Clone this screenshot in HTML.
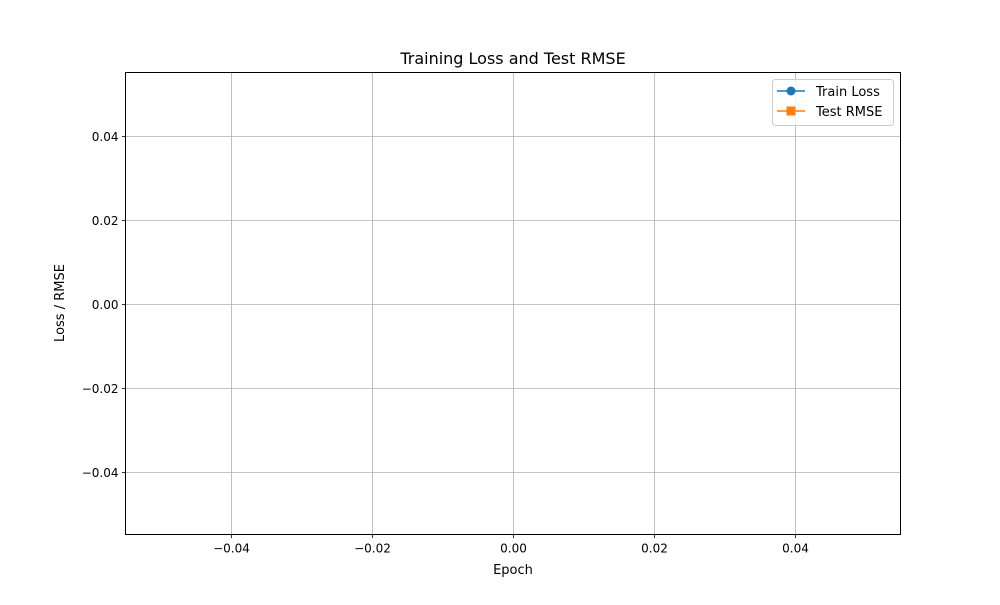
<!DOCTYPE html>
<html><head><meta charset="utf-8"><style>
body{margin:0;background:#fff;font-family:"Liberation Sans","DejaVu Sans",sans-serif;}
svg text{font-family:"DejaVu Sans","Liberation Sans",sans-serif;}
</style></head><body>
<svg id="chart" width="1000" height="600" xmlns="http://www.w3.org/2000/svg">
<rect width="1000" height="600" fill="#fff"/>
<g id="grid"></g>
<rect x="125.5" y="72.5" width="775" height="462" fill="none" stroke="#000" stroke-width="1"/>
<g id="ticks"></g>
<g id="series"></g>
<text x="513" y="64" text-anchor="middle" font-size="16">Training Loss and Test RMSE</text>
<text x="513" y="574" text-anchor="middle" font-size="13">Epoch</text>
<text x="64" y="303" text-anchor="middle" font-size="13" transform="rotate(-90 64 303)">Loss / RMSE</text>
<g>
<rect x="772.5" y="79.5" width="121" height="46" rx="3" fill="#fff" fill-opacity="0.8" stroke="#ccc"/>
<g>
<line x1="777" y1="91" x2="805" y2="91" stroke="#1f77b4" stroke-width="1.5"/>
<circle cx="791" cy="91" r="4.5" fill="#1f77b4"/>
<text x="816" y="96" font-size="13">Train Loss</text>
</g>
<g>
<line x1="777" y1="111" x2="805" y2="111" stroke="#ff7f0e" stroke-width="1.5"/>
<rect x="786.5" y="106.5" width="9" height="9" fill="#ff7f0e"/>
<text x="816" y="116" font-size="13">Test RMSE</text>
</g>
</g>
</svg>
<script>
const epochs = [];
const trainLoss = [];
const testRmse = [];
const xTicks = [-0.04, -0.02, 0, 0.02, 0.04];
const yTicks = [-0.04, -0.02, 0, 0.02, 0.04];
const xDomain = [-0.055, 0.055];
const yDomain = [-0.055, 0.055];

const L=125.5,R=900.5,T=72.5,B=534.5;
function xs(v){return L+(v-xDomain[0])/(xDomain[1]-xDomain[0])*(R-L);}
function ys(v){return B-(v-yDomain[0])/(yDomain[1]-yDomain[0])*(B-T);}
const NS="http://www.w3.org/2000/svg";
function mk(tag,attrs,parent){const e=document.createElementNS(NS,tag);for(const k in attrs)e.setAttribute(k,attrs[k]);parent.appendChild(e);return e;}
const grid=document.getElementById('grid'),ticks=document.getElementById('ticks'),series=document.getElementById('series');
function fmt(v){return (v<0?'\u2212':'')+Math.abs(v).toFixed(2);}
xTicks.forEach(v=>{
  const x=Math.round(xs(v))+0.5;
  const g=mk('line',{x1:x,y1:T,x2:x,y2:B,stroke:'#b0b0b0','stroke-width':0.8},grid);
  
  
  const t=mk('line',{x1:x,y1:B,x2:x,y2:B+3.5,stroke:'#000','stroke-width':0.8},ticks);
  
  
  const l=mk('text',{x:x,y:B+18,'text-anchor':'middle','font-size':12},ticks);
  l.textContent=fmt(v);
  
  
});
yTicks.forEach(v=>{
  const y=Math.round(ys(v))+0.5;
  const g=mk('line',{x1:L,y1:y,x2:R,y2:y,stroke:'#b0b0b0','stroke-width':0.8},grid);
  
  
  const t=mk('line',{x1:L-3.5,y1:y,x2:L,y2:y,stroke:'#000','stroke-width':0.8},ticks);
  
  
  const l=mk('text',{x:L-7,y:y+4.5,'text-anchor':'end','font-size':12},ticks);
  l.textContent=fmt(v);
  
  
});
function drawSeries(vals,color,name,square){
  if(!vals.length)return;
  const pts=vals.map((v,i)=>xs(epochs[i])+','+ys(v)).join(' ');
  const pl=mk('polyline',{points:pts,fill:'none',stroke:color,'stroke-width':1.5},series);
  
  
  vals.forEach((v,i)=>{
    const cx=xs(epochs[i]),cy=ys(v);
    const m=square?mk('rect',{x:cx-4.5,y:cy-4.5,width:9,height:9,fill:color},series):mk('circle',{cx:cx,cy:cy,r:4.5,fill:color},series);
    
    
  });
}
drawSeries(trainLoss,'#1f77b4','train-loss',false);
drawSeries(testRmse,'#ff7f0e','test-rmse',true);
</script>
</body></html>
